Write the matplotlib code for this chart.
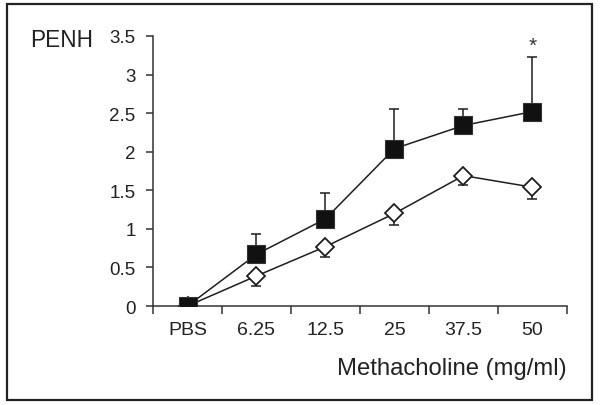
import matplotlib
matplotlib.use("Agg")
import matplotlib.pyplot as plt
from matplotlib.patches import Rectangle
import numpy as np

categories = ["PBS", "6.25", "12.5", "25", "37.5", "50"]
filled_vals = [0.0, 0.67, 1.13, 2.04, 2.34, 2.52]
filled_err_up = [0.0, 0.26, 0.33, 0.51, 0.21, 0.71]
open_vals = [0.0, 0.39, 0.77, 1.20, 1.69, 1.54]
open_err_down = [0.0, 0.13, 0.13, 0.15, 0.12, 0.15]
yticks = [0, 0.5, 1, 1.5, 2, 2.5, 3, 3.5]
ytick_labels = ["0", "0.5", "1", "1.5", "2", "2.5", "3", "3.5"]

tick_font = ["Liberation Sans", "DejaVu Sans"]
label_font = ["Liberation Sans", "DejaVu Sans"]

fig = plt.figure(figsize=(6.02, 4.06), dpi=100)
ax = fig.add_axes([153/602, 1 - 307/406, 414/602, 270/406])

x = np.arange(len(categories)) + 0.5
col = "#1e1e1e"

ax.errorbar(x, open_vals, yerr=[open_err_down, [0]*len(x)], fmt="none",
            ecolor=col, elinewidth=1.1, capsize=3.5, capthick=1.1, zorder=2)
ax.plot(x, open_vals, color=col, lw=1.1, marker="D", ms=9.0,
        mfc="white", mec=col, mew=1.3, zorder=3)
ax.errorbar(x, filled_vals, yerr=[[0]*len(x), filled_err_up], fmt="none",
            ecolor=col, elinewidth=1.1, capsize=3.5, capthick=1.1, zorder=4)
ax.plot(x, filled_vals, color=col, lw=1.1, marker="s", ms=12.5,
        mfc="#111111", mec="#333333", mew=0.8, zorder=5)

ax.text(x[5], filled_vals[5] + filled_err_up[5] + 0.03, "*", ha="center",
        va="bottom", fontsize=15, family=label_font, color="#333333")

ax.set_xlim(0, 6)
ax.set_ylim(0, 3.5)
ax.set_xticks(np.arange(0, 7))
ax.set_xticklabels([])
ax.set_xticks(x, minor=True)
ax.set_xticklabels(categories, minor=True, fontsize=14, family=tick_font,
                   color="#222222")
ax.tick_params(axis="x", which="minor", length=0, pad=10.5)
ax.tick_params(axis="x", which="major", length=6, width=1.1, direction="out",
               color="#333333")
ax.set_yticks(yticks)
ax.set_yticklabels(ytick_labels, fontsize=13.5, family=tick_font, color="#222222")
ax.tick_params(axis="y", length=5, width=1.1, direction="out", pad=7.5,
               color="#333333")

for s in ["top", "right"]:
    ax.spines[s].set_visible(False)
for s in ["left", "bottom"]:
    ax.spines[s].set_linewidth(1.1)
    ax.spines[s].set_color("#333333")

fig.text(30/602, 1 - 47/406, "PENH", fontsize=16.3, family=label_font,
         ha="left", va="baseline", color="#222222")
fig.text(567/602, 1 - 375/406, "Methacholine (mg/ml)", fontsize=17.2,
         family=label_font, ha="right", va="baseline", color="#222222")

fig.patches.append(Rectangle((7/602, 1 - 401/406), 585/602, 396/406,
                             transform=fig.transFigure, fill=False,
                             edgecolor="#222222", linewidth=1.6))

fig.savefig("out.png", dpi=100)
